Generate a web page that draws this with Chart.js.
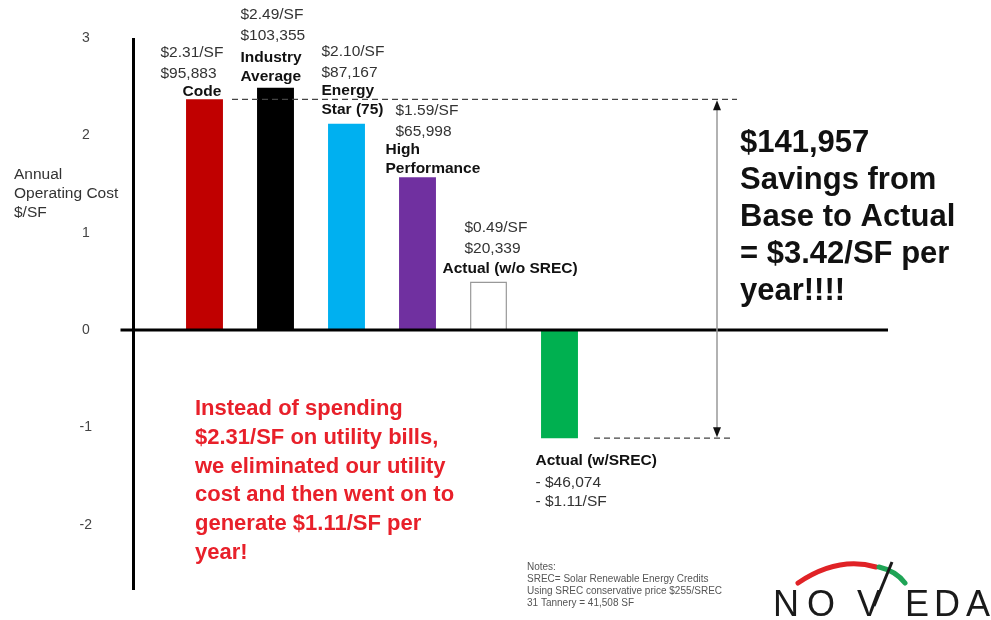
<!DOCTYPE html>
<html>
<head>
<meta charset="utf-8">
<script src="https://cdn.jsdelivr.net/npm/chart.js@4.4.1/dist/chart.umd.min.js"></script>
<style>
  html, body { margin: 0; padding: 0; background: #fff; }
  #wrap { width: 991px; height: 620px; }
</style>
</head>
<body>
<div id="wrap"><canvas id="myChart" width="991" height="620"></canvas></div>
<script>
// Annual operating cost per square foot, as drawn in the picture
const categories = ['Code', 'Industry Average', 'Energy Star (75)', 'High Performance', 'Actual (w/o SREC)', 'Actual (w/SREC)'];
const costPerSF = [2.37, 2.49, 2.12, 1.57, 0.50, -1.11];
const perSFLabels = ['$2.31/SF', '$2.49/SF', '$2.10/SF', '$1.59/SF', '$0.49/SF', '- $1.11/SF'];
const dollarLabels = ['$95,883', '$103,355', '$87,167', '$65,998', '$20,339', '- $46,074'];
const nameLines = [['Code'], ['Industry', 'Average'], ['Energy', 'Star (75)'], ['High', 'Performance'], ['Actual (w/o SREC)'], ['Actual (w/SREC)']];
const yTicks = [-2, -1, 0, 1, 2, 3];
const yMin = -2.67;
const yMax = 3;

const barColors = ['#c00000', '#000000', '#00b0f0', '#7030a0', '#ffffff', '#00b050'];
const barBorders = ['#c00000', '#000000', '#00b0f0', '#7030a0', '#999999', '#00b050'];

const FONT = '"Liberation Sans", Arial, sans-serif';

// text block offsets from each bar's centre / value end
const labelLayout = [
    { vx: -44, vy: -47, nx: -22, ny: -8 },
    { vx: -35, vy: -73, nx: -35, ny: -30 },
    { vx: -25, vy: -72, nx: -25, ny: -33 },
    { vx: -22, vy: -66, nx: -32, ny: -27 },
    { vx: -24, vy: -54, nx: -46, ny: -13 },
    { vx: -24, vy: 45, nx: -24, ny: 23 }
];

function put(ctx, str, px, py, font, color, align) {
    ctx.font = font;
    ctx.fillStyle = color;
    ctx.textAlign = align || 'left';
    ctx.textBaseline = 'middle';
    ctx.fillText(str, px, py);
}

function arrowHead(ctx, px, py, dir) {
    ctx.beginPath();
    ctx.moveTo(px, py);
    ctx.lineTo(px - 4, py - dir * 10);
    ctx.lineTo(px + 4, py - dir * 10);
    ctx.closePath();
    ctx.fill();
}

const annotate = {
    id: 'annotate',
    afterDatasetsDraw(chart) {
        const { ctx, chartArea } = chart;
        const x = chart.scales.x, y = chart.scales.y;
        const bars = chart.getDatasetMeta(0).data;
        const step = x.getPixelForValue(1) - x.getPixelForValue(0);
        const axisX = x.getPixelForValue(0) - step;
        const zeroY = y.getPixelForValue(0);
        const topY = y.getPixelForValue(costPerSF[0]);
        const lowY = y.getPixelForValue(costPerSF[5]);

        ctx.save();
        // axes
        ctx.strokeStyle = '#000';
        ctx.lineWidth = 3;
        ctx.beginPath();
        ctx.moveTo(axisX, chartArea.top);
        ctx.lineTo(axisX, chartArea.bottom);
        ctx.moveTo(axisX - 13, zeroY);
        ctx.lineTo(888, zeroY);
        ctx.stroke();

        // dashed reference lines
        ctx.strokeStyle = '#444';
        ctx.lineWidth = 1.2;
        ctx.setLineDash([6, 4]);
        ctx.beginPath();
        ctx.moveTo(232, topY);
        ctx.lineTo(737, topY);
        ctx.moveTo(594, lowY);
        ctx.lineTo(730, lowY);
        ctx.stroke();
        ctx.setLineDash([]);

        // savings arrow
        ctx.strokeStyle = '#999';
        ctx.lineWidth = 1.5;
        ctx.beginPath();
        ctx.moveTo(717, topY + 4);
        ctx.lineTo(717, lowY - 4);
        ctx.stroke();
        ctx.fillStyle = '#111';
        arrowHead(ctx, 717, topY + 1, -1);
        arrowHead(ctx, 717, lowY - 1, 1);

        // bar labels
        bars.forEach((bar, i) => {
            const L = labelLayout[i];
            const vFont = '15.5px ' + FONT;
            const nFont = 'bold 15.5px ' + FONT;
            if (costPerSF[i] >= 0) {
                put(ctx, perSFLabels[i], bar.x + L.vx, bar.y + L.vy, vFont, '#333');
                put(ctx, dollarLabels[i], bar.x + L.vx, bar.y + L.vy + 21, vFont, '#333');
            } else {
                put(ctx, dollarLabels[i], bar.x + L.vx, bar.y + L.vy, vFont, '#333');
                put(ctx, perSFLabels[i], bar.x + L.vx, bar.y + L.vy + 19, vFont, '#333');
            }
            nameLines[i].forEach((s, k) => {
                put(ctx, s, bar.x + L.nx, bar.y + L.ny + k * 19, nFont, '#111');
            });
        });

        // y axis title
        ['Annual', 'Operating Cost', '$/SF'].forEach((s, k) => {
            put(ctx, s, 14, 175 + k * 19, '15.5px ' + FONT, '#333');
        });

        // savings callout
        ['$141,957', 'Savings from', 'Base to Actual', '= $3.42/SF per', 'year!!!!'].forEach((s, k) => {
            put(ctx, s, 740, 143 + k * 37, 'bold 31px ' + FONT, '#111');
        });

        // red message
        ['Instead of spending', '$2.31/SF on utility bills,', 'we eliminated our utility',
         'cost and then went on to', 'generate $1.11/SF per', 'year!'].forEach((s, k) => {
            put(ctx, s, 195, 409 + k * 28.8, 'bold 22px ' + FONT, '#e8202a');
        });

        // notes
        ['Notes:', 'SREC= Solar Renewable Energy Credits', 'Using SREC conservative price $255/SREC',
         '31 Tannery = 41,508 SF'].forEach((s, k) => {
            put(ctx, s, 527, 567 + k * 12, '10px ' + FONT, '#555');
        });

        // logo
        ctx.lineCap = 'round';
        ctx.strokeStyle = '#e02226';
        ctx.lineWidth = 5;
        ctx.beginPath();
        ctx.moveTo(798, 583);
        ctx.quadraticCurveTo(838, 556, 876, 567);
        ctx.stroke();
        ctx.strokeStyle = '#1fa456';
        ctx.beginPath();
        ctx.moveTo(879, 567);
        ctx.quadraticCurveTo(896, 571, 905, 583);
        ctx.stroke();
        const logoX = [773, 807, 857, 905, 934, 966];
        'NOVEDA'.split('').forEach((c, k) => {
            ctx.font = '36px ' + FONT;
            ctx.fillStyle = '#1a1a1a';
            ctx.textAlign = 'left';
            ctx.textBaseline = 'alphabetic';
            ctx.fillText(c, logoX[k], 616);
        });
        ctx.strokeStyle = '#1a1a1a';
        ctx.lineWidth = 3;
        ctx.lineCap = 'butt';
        ctx.beginPath();
        ctx.moveTo(874, 606);
        ctx.lineTo(892, 562);
        ctx.stroke();
        ctx.restore();
    }
};

const chart = new Chart(document.getElementById('myChart').getContext('2d'), {
    type: 'bar',
    data: {
        labels: categories,
        datasets: [{
            data: costPerSF,
            backgroundColor: barColors,
            borderColor: barBorders,
            borderWidth: [0, 0, 0, 0, 1.5, 0],
            barPercentage: 0.52,
            categoryPercentage: 1.0
        }]
    },
    options: {
        responsive: false,
        animation: false,
        devicePixelRatio: 1,
        layout: { padding: { top: 38, bottom: 30, left: 0, right: 396 } },
        plugins: { legend: { display: false }, tooltip: { enabled: false } },
        scales: {
            x: {
                display: false,
                offset: true,
                grid: { display: false }
            },
            y: {
                min: yMin,
                max: yMax,
                afterBuildTicks: (scale) => { scale.ticks = yTicks.map(v => ({ value: v })); },
                afterFit: (scale) => {
                    scale.width = 169;
                    scale.paddingTop = 0;
                    scale.paddingBottom = 0;
                },
                grid: { display: false, drawTicks: false },
                border: { display: false },
                ticks: {
                    padding: 77,
                    crossAlign: 'center',
                    color: '#444',
                    font: { family: FONT, size: 14 }
                }
            }
        }
    },
    plugins: [annotate]
});
</script>
</body>
</html>
